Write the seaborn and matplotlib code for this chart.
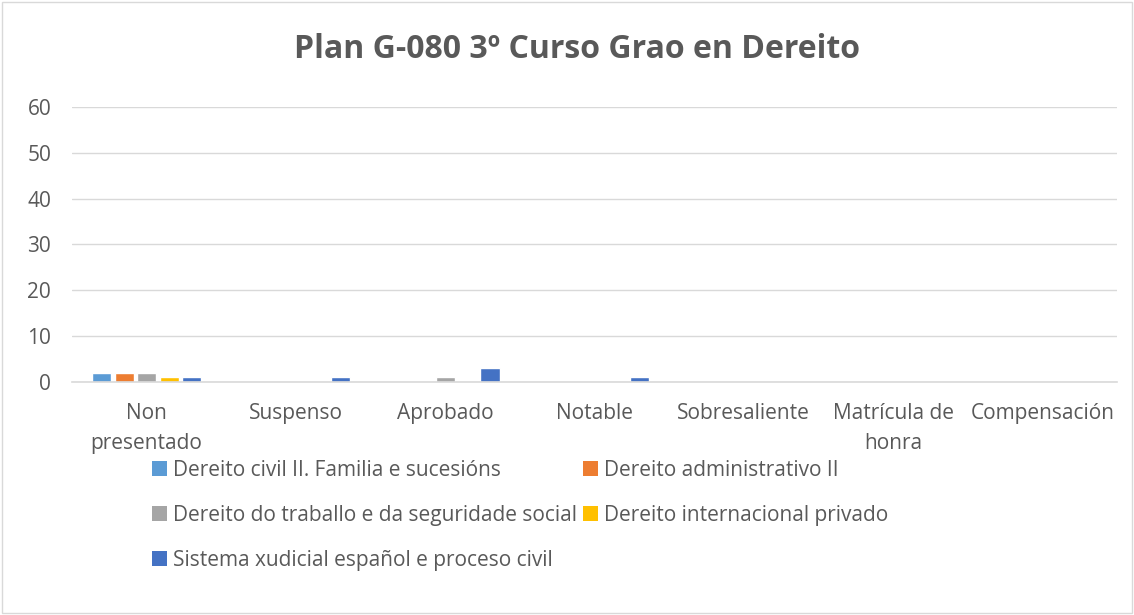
import pandas as pd
import numpy as np
import matplotlib.pyplot as plt
import seaborn as sns
from matplotlib.patches import Patch

# categories on the x axis
categories = ['Non\npresentado', 'Suspenso', 'Aprobado', 'Notable',
              'Sobresaliente', 'Matrícula de\nhonra', 'Compensación']

# one series per subject
subjects = ['Dereito civil II. Familia e sucesións',
            'Dereito administrativo II',
            'Dereito do traballo e da seguridade social',
            'Dereito internacional privado',
            'Sistema xudicial español e proceso civil']

civil = [2, 0, 0, 0, 0, 0, 0]
administrativo = [2, 0, 0, 0, 0, 0, 0]
traballo = [2, 0, 1, 0, 0, 0, 0]
internacional = [1, 0, 0, 0, 0, 0, 0]
sistema = [1, 1, 3, 1, 0, 0, 0]

colors = ['#5b9bd5', '#ed7d31', '#a5a5a5', '#ffc000', '#4472c4']

rows = []
for subj, vals in zip(subjects, [civil, administrativo, traballo, internacional, sistema]):
    for cat, v in zip(categories, vals):
        rows.append({'cat': cat, 'subject': subj, 'value': v})
df = pd.DataFrame(rows)

sns.set_style('white')
plt.rcParams['font.family'] = ['Open Sans', 'DejaVu Sans']

fig = plt.figure(figsize=(11.34, 6.15), dpi=100)
ax = fig.add_axes([0.0635, 0.379, 0.9215, 0.447])

sns.barplot(data=df, x='cat', y='value', hue='subject', order=categories,
            hue_order=subjects, palette=colors, width=0.75, gap=0.15,
            ax=ax, legend=False, saturation=1)

ax.set_ylim(0, 60)
ax.set_yticks(range(0, 61, 10))
ax.yaxis.grid(True, color='#d9d9d9', linewidth=1)
ax.set_axisbelow(True)
for s in ['top', 'right', 'left']:
    ax.spines[s].set_visible(False)
ax.spines['bottom'].set_color('#d9d9d9')
ax.spines['bottom'].set_linewidth(1.2)
ax.tick_params(axis='both', length=0, labelsize=15, labelcolor='#595959')
ax.tick_params(axis='x', pad=15)
ax.tick_params(axis='y', pad=15)
ax.set_xlabel('')
ax.set_ylabel('')
for lbl in ax.get_xticklabels():
    lbl.set_linespacing(1.6)

fig.text(0.509, 0.919, 'Plan G-080 3º Curso Grao en Dereito', ha='center', va='center',
         fontsize=23, fontweight='bold', color='#595959')

# legend in two columns, row-wise order like the original
order = [0, 2, 4, 1, 3]
handles = [Patch(facecolor=colors[i], edgecolor='none') for i in order]
labels = [subjects[i] for i in order]
fig.legend(handles, labels, ncol=2, loc='upper left', bbox_to_anchor=(0.134, 0.252),
           frameon=False, fontsize=15, labelcolor='#595959', handlelength=0.7,
           handleheight=0.7, handletextpad=0.3, columnspacing=0.3, labelspacing=1.15,
           borderpad=0, borderaxespad=0)

# light frame round the chart
fig.patches.append(plt.Rectangle((0.002, 0.003), 0.996, 0.994, transform=fig.transFigure,
                                 fill=False, edgecolor='#d9d9d9', linewidth=1))

fig.savefig('out.png', dpi=100)
